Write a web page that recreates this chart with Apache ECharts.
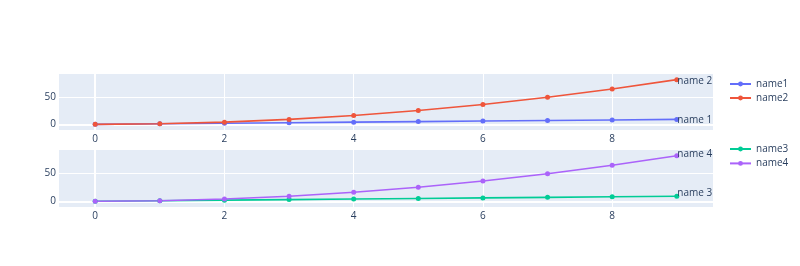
<!DOCTYPE html>
<html>
<head>
<meta charset="utf-8">
<script src="https://cdn.jsdelivr.net/npm/echarts@6/dist/echarts.min.js"></script>
<style>html,body{margin:0;padding:0;background:#fff}#c{width:800px;height:266px}</style>
</head>
<body>
<div id="c"></div>
<script>
var xValues = [0, 1, 2, 3, 4, 5, 6, 7, 8, 9];
var name1 = [0, 1, 2, 3, 4, 5, 6, 7, 8, 9];
var name2 = [0, 1, 4, 9, 16, 25, 36, 49, 64, 81];
var name3 = [0, 1, 2, 3, 4, 5, 6, 7, 8, 9];
var name4 = [0, 1, 4, 9, 16, 25, 36, 49, 64, 81];
var seriesNames = ['name1', 'name2', 'name3', 'name4'];
var endLabels = ['name 1', 'name 2', 'name 3', 'name 4'];
var xTicks = [0, 2, 4, 6, 8];
var yTicks = [0, 50];
var colors = ['#636efa', '#EF553B', '#00cc96', '#ab63fa'];
var labelOffsetsY = [1, 2, -3, -2];

var FONT = '"Open Sans", verdana, arial, sans-serif';
var TXT = '#2a3f5f';

function pairs(ys, labelText, dy) {
  return ys.map(function (y, i) {
    var item = { value: [xValues[i], y] };
    if (i === ys.length - 1) {
      item.label = {
        show: true, formatter: labelText, position: 'right', distance: -2,
        offset: [0, dy], color: TXT, fontSize: 10, fontFamily: FONT
      };
    }
    return item;
  });
}

function xAxis(gi) {
  return {
    type: 'value', gridIndex: gi, min: -0.56, max: 9.56,
    axisLine: { show: false }, axisTick: { show: false, customValues: xTicks },
    axisLabel: { customValues: xTicks, color: TXT, fontSize: 10, fontFamily: FONT, margin: 4 },
    splitLine: { show: true, lineStyle: { color: '#ffffff', width: 1 } }
  };
}
function yAxis(gi) {
  return {
    type: 'value', gridIndex: gi, min: -10.2, max: 91.2,
    axisLine: { show: false }, axisTick: { show: false, customValues: yTicks },
    axisLabel: { customValues: yTicks, color: TXT, fontSize: 10, fontFamily: FONT, margin: 3 },
    splitLine: { show: true, lineStyle: { color: '#ffffff', width: 1 } }
  };
}

var allData = [name1, name2, name3, name4];
var series = allData.map(function (d, i) {
  var gi = i < 2 ? 0 : 1;
  var s = {
    name: seriesNames[i], type: 'line', xAxisIndex: gi, yAxisIndex: gi,
    data: pairs(d, endLabels[i], labelOffsetsY[i]), symbol: 'circle', symbolSize: 5,
    itemStyle: { color: colors[i] }, lineStyle: { color: colors[i], width: 1.6 },
    animation: false, z: 3
  };
  if (i === 0 || i === 2) {
    s.markLine = {
      silent: true, symbol: 'none', z: 1, label: { show: false },
      lineStyle: { color: '#ffffff', width: 2, type: 'solid' },
      data: [{ yAxis: 0 }, { xAxis: 0 }], animation: false
    };
  }
  return s;
});

var chart = echarts.init(document.getElementById('c'), null, { renderer: 'canvas' });
chart.setOption({
  animation: false,
  textStyle: { fontFamily: FONT },
  grid: [
    { left: 59, right: 87, top: 74, height: 56, backgroundColor: '#E5ECF6', show: true, borderWidth: 0 },
    { left: 59, right: 87, top: 150, height: 57, backgroundColor: '#E5ECF6', show: true, borderWidth: 0 }
  ],
  xAxis: [xAxis(0), xAxis(1)],
  yAxis: [yAxis(0), yAxis(1)],
  legend: [
    { data: [seriesNames[0], seriesNames[1]], orient: 'vertical', left: 729, top: 77, padding: 0,
      itemWidth: 21, itemHeight: 6, itemGap: 0,
      textStyle: { color: TXT, fontSize: 10, fontFamily: FONT, lineHeight: 14 } },
    { data: [seriesNames[2], seriesNames[3]], orient: 'vertical', left: 729, top: 142, padding: 0,
      itemWidth: 21, itemHeight: 6, itemGap: 0.4,
      textStyle: { color: TXT, fontSize: 10, fontFamily: FONT, lineHeight: 14 } }
  ],
  series: series
});
</script>
</body>
</html>
